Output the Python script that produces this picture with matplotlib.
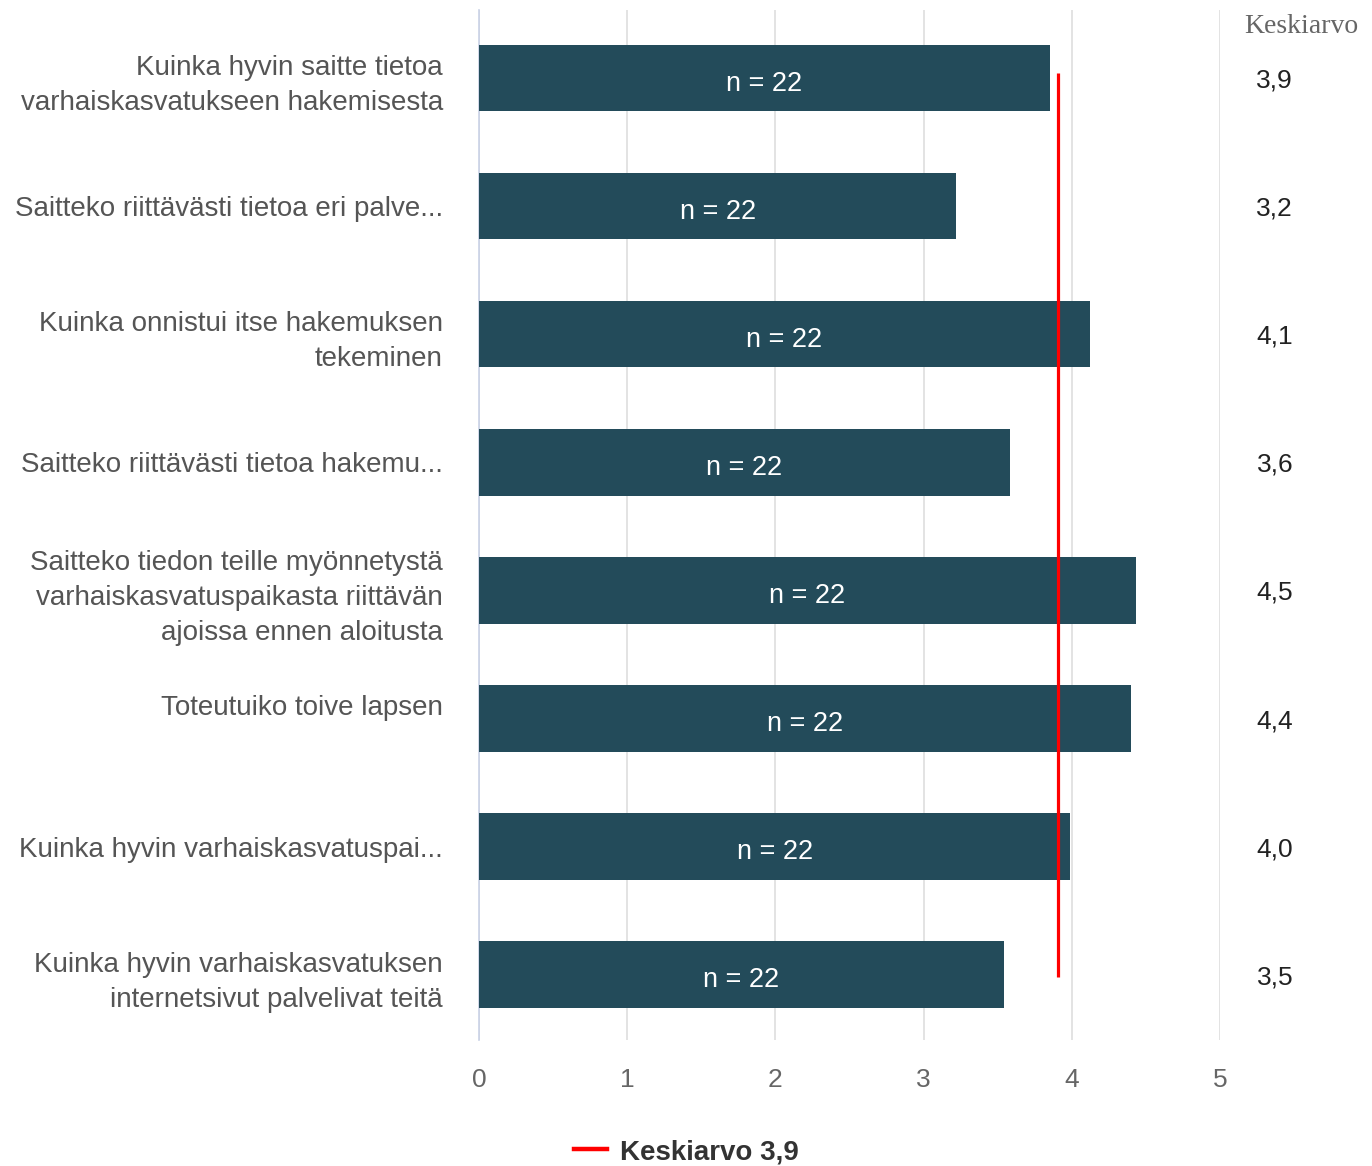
import matplotlib
matplotlib.use("Agg")
import matplotlib.pyplot as plt
from matplotlib.lines import Line2D

categories = [
    "Kuinka hyvin saitte tietoa\nvarhaiskasvatukseen hakemisesta",
    "Saitteko riittävästi tietoa eri palve...",
    "Kuinka onnistui itse hakemuksen\ntekeminen",
    "Saitteko riittävästi tietoa hakemu...",
    "Saitteko tiedon teille myönnetystä\nvarhaiskasvatuspaikasta riittävän\najoissa ennen aloitusta",
    "Toteutuiko toive lapsen\n ",
    "Kuinka hyvin varhaiskasvatuspai...",
    "Kuinka hyvin varhaiskasvatuksen\ninternetsivut palvelivat teitä",
]
values = [3.85, 3.22, 4.12, 3.58, 4.43, 4.40, 3.99, 3.54]
value_labels = ["3,9", "3,2", "4,1", "3,6", "4,5", "4,4", "4,0", "3,5"]
counts = [22, 22, 22, 22, 22, 22, 22, 22]
mean_value = 3.91
mean_label = "Keskiarvo 3,9"
header = "Keskiarvo"
xticks = [0, 1, 2, 3, 4, 5]

FONT = "Liberation Sans"
bar_color = "#234b5a"

fig = plt.figure(figsize=(13.72, 11.66), dpi=100)
ax = fig.add_axes([479/1372, 1 - 1040/1166, (1220-479)/1372, 1030/1166])

ypos = list(range(len(categories)))
ax.barh(ypos, values, height=0.52, color=bar_color, zorder=3)
ax.set_xlim(0, 5)
ax.set_ylim(len(categories) - 0.49, -0.53)

for y, v, c, lab in zip(ypos, values, counts, value_labels):
    ax.text(v / 2, y + 0.045, f"n = {c}", ha="center", va="center",
            color="white", fontsize=19.5, family=FONT, zorder=5)
    ax.text(5.37, y + 0.02, lab, ha="center", va="center",
            color="#222222", fontsize=19, family=FONT, clip_on=False)

ax.text(5.55, -0.40, header, ha="center", va="center", color="#666666",
        fontsize=20, family="Liberation Serif", clip_on=False)

ax.vlines(mean_value, -0.035, len(categories) - 1 + 0.02, color="red",
          linewidth=2.3, zorder=6)

ax.set_yticks(ypos)
ax.set_yticklabels(categories, fontsize=20, family=FONT, color="#555555",
                   linespacing=1.45)
for t in ax.get_yticklabels():
    t.set_y(t.get_position()[1])
ax.set_xticks(xticks)
ax.set_xticklabels([str(t) for t in xticks], fontsize=19, family=FONT,
                   color="#666666")
ax.tick_params(axis="y", length=0, pad=26)
ax.tick_params(axis="x", length=0, pad=20)

ax.grid(axis="x", color="#e0e0e0", linewidth=1.3, zorder=0)
ax.set_axisbelow(True)
for s in ["top", "right", "bottom"]:
    ax.spines[s].set_visible(False)
ax.spines["left"].set_color("#c9d2e6")
ax.spines["left"].set_linewidth(1.2)

handle = Line2D([0], [0], color="red", linewidth=3.2)
fig.legend([handle], [mean_label], loc="center", bbox_to_anchor=(0.5, 1 - 1152/1166),
           frameon=False, prop={"family": FONT, "weight": "bold", "size": 20},
           handlelength=1.2, handletextpad=0.45, labelcolor="#333333")

fig.savefig("out.png", dpi=100, facecolor="white")
